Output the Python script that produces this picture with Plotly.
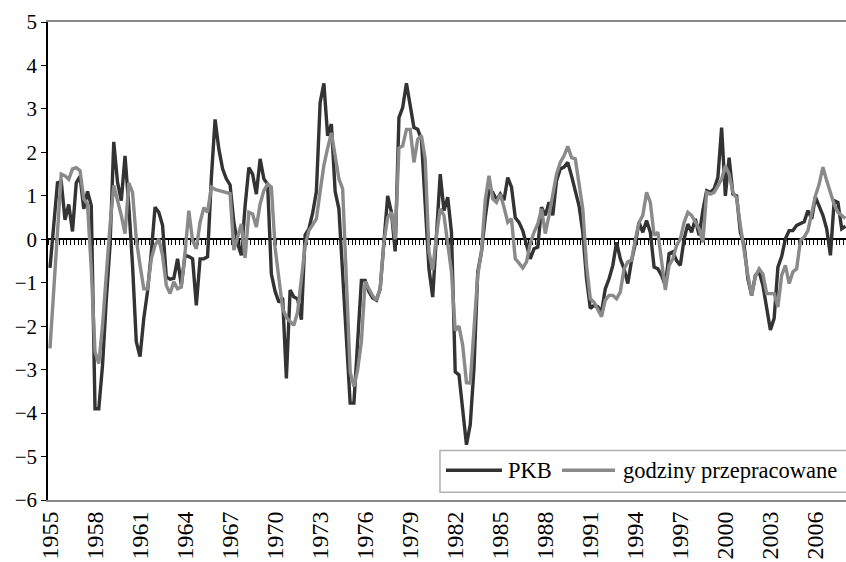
import plotly.graph_objects as go

# ---- data (quarterly, 1955Q1 .. 2008Q1) ----
start_year = 1955
year_ticks = list(range(1955, 2007, 3))

pkb = [
    -0.66, 0.30, 1.30, 1.33, 0.45, 0.80, 0.18, 1.30, 1.45, 0.70,
    1.10, 0.78, -3.90, -3.90, -2.90, -1.40, -0.15, 2.24, 1.31, 0.89,
    1.92, 0.78, -0.60, -2.36, -2.70, -1.82, -1.20, -0.30, 0.74, 0.62,
    0.32, -0.87, -0.92, -0.90, -0.45, -1.06, -0.37, -0.40, -0.45, -1.52,
    -0.45, -0.45, -0.40, 1.40, 2.76, 2.08, 1.62, 1.39, 1.25, 0.39,
    -0.10, -0.37, 0.77, 1.65, 1.50, 1.04, 1.85, 1.39, 1.27, -0.80,
    -1.20, -1.45, -1.35, -3.20, -1.17, -1.33, -1.37, -1.85, 0.10, 0.24,
    0.60, 1.10, 3.15, 3.59, 2.38, 2.65, 1.10, 0.70, -0.80, -2.30,
    -3.77, -3.77, -2.40, -0.95, -0.95, -1.21, -1.35, -1.40, -1.14, -0.07,
    1.00, 0.62, -0.28, 2.80, 3.03, 3.59, 3.10, 2.57, 2.53, 2.30,
    0.80, -0.68, -1.33, 0.10, 1.50, 0.66, 0.97, 0.16, -3.05, -3.12,
    -3.90, -4.73, -4.27, -2.97, -0.75, -0.29, 0.50, 1.12, 1.08, 0.90,
    1.04, 0.90, 1.42, 1.20, 0.50, 0.39, 0.20, -0.14, -0.45, -0.22,
    -0.18, 0.74, 0.55, 0.85, 0.55, 1.35, 1.62, 1.66, 1.77, 1.46,
    1.08, 0.77, 0.16, -0.91, -1.59, -1.52, -1.55, -1.67, -1.14, -0.91,
    -0.60, -0.07, -0.45, -0.68, -1.02, -0.49, -0.10, 0.39, 0.16, 0.43,
    0.16, -0.64, -0.68, -0.83, -1.06, -0.33, -0.29, -0.49, -0.60, 0.01,
    0.35, 0.16, 0.47, 0.09, 0.66, 1.12, 1.08, 1.16, 1.42, 2.57,
    1.00, 1.88, 1.04, 1.00, 0.16, -0.14, -0.91, -1.29, -0.83, -0.75,
    -1.06, -1.59, -2.09, -1.82, -0.64, -0.40, 0.01, 0.20, 0.20, 0.32,
    0.35, 0.40, 0.66, 0.47, 0.97, 0.77, 0.55, 0.24, -0.37, 0.89,
    0.85, 0.24, 0.30,
]

godziny = [
    -2.51, -1.21, 0.20, 1.50, 1.46, 1.38, 1.62, 1.65, 1.58, 0.93,
    0.81, -0.68, -2.59, -2.86, -1.98, -0.75, 0.32, 1.24, 0.93, 0.55,
    0.13, 1.30, 1.08, 0.01, -0.60, -1.14, -1.14, -0.45, -0.14, 0.01,
    -0.37, -1.06, -1.25, -0.98, -1.14, -1.10, -0.30, 0.66, -0.03, -0.22,
    0.39, 0.73, 0.62, 1.20, 1.15, 1.12, 1.10, 1.08, 1.05, -0.25,
    0.05, 0.35, -0.43, 0.62, 0.58, 0.28, 0.81, 1.12, 1.27, 1.20,
    -0.20, -0.90, -1.59, -1.80, -1.90, -1.98, -1.67, -0.85, -0.15, 0.20,
    0.35, 0.47, 1.10, 1.70, 2.10, 2.45, 1.92, 1.39, 1.16, -1.00,
    -3.05, -3.39, -3.00, -2.35, -0.97, -1.14, -1.30, -1.40, -1.14, -0.05,
    0.50, 0.62, 0.00, 2.10, 2.15, 2.53, 2.53, 1.77, 2.30, 2.38,
    1.85, -0.29, -0.71, 0.09, 0.70, 0.55, -0.14, -0.75, -2.10, -2.00,
    -2.44, -3.30, -3.31, -1.98, -0.83, -0.29, 0.90, 1.46, 0.93, 0.85,
    1.04, 0.74, 0.39, 0.47, -0.45, -0.55, -0.66, -0.52, -0.10, 0.16,
    0.35, 0.70, 0.13, 0.55, 1.00, 1.50, 1.77, 1.92, 2.14, 1.88,
    1.85, 1.23, 0.70, -0.60, -1.37, -1.45, -1.60, -1.78, -1.40, -1.29,
    -1.29, -1.37, -1.21, -0.68, -0.52, -0.48, 0.00, 0.39, 0.55, 1.08,
    0.85, 0.09, 0.16, -0.45, -1.17, -0.60, -0.45, -0.14, 0.01, 0.39,
    0.62, 0.55, 0.39, 0.24, -0.07, 1.08, 1.04, 1.08, 1.23, 1.38,
    1.69, 1.50, 1.08, 0.95, 0.32, -0.29, -0.83, -1.29, -0.85, -0.68,
    -0.80, -1.25, -1.25, -1.25, -1.56, -0.83, -0.60, -1.02, -0.75, -0.68,
    -0.03, 0.05, 0.20, 0.60, 1.00, 1.27, 1.66, 1.35, 1.04, 0.80,
    0.62, 0.55, 0.48,
]

series_names = ["PKB", "godziny przepracowane"]
series_colors = ["#333333", "#8a8a8a"]

quarter_idx = list(range(len(pkb)))
tick_pos = [(y - start_year) * 4 for y in year_ticks]
tick_text = [str(y) for y in year_ticks]

FONT = "Liberation Serif, Times New Roman, serif"
xrange = [-0.53, 212.15]
LW = 3.4

fig = go.Figure()
for name, vals, col in zip(series_names, [pkb, godziny], series_colors):
    fig.add_trace(go.Scatter(x=quarter_idx, y=vals, mode="lines", name=name,
                             line=dict(color=col, width=LW)))
# carrier for the zero-line category axis
fig.add_trace(go.Scatter(x=[0], y=[None], xaxis="x2", mode="lines",
                         showlegend=False, hoverinfo="skip"))

# ---- legend box (drawn in plot-area fractions) ----
ly = 0.0623
shapes = [
    dict(type="rect", xref="paper", yref="paper", x0=0.4912, x1=1.01,
         y0=0.0163, y1=0.1036, line=dict(color="#b0b0b0", width=1.5),
         fillcolor="white", layer="above"),
    dict(type="line", xref="paper", yref="paper", x0=0.4987, x1=0.5689,
         y0=ly, y1=ly, line=dict(color=series_colors[0], width=LW)),
    dict(type="line", xref="paper", yref="paper", x0=0.6441, x1=0.7105,
         y0=ly, y1=ly, line=dict(color=series_colors[1], width=LW)),
]
annotations = [
    dict(xref="paper", yref="paper", x=0.5745, y=ly, text=series_names[0],
         showarrow=False, xanchor="left", yanchor="middle",
         font=dict(family=FONT, size=22.5, color="black")),
    dict(xref="paper", yref="paper", x=0.7185, y=ly, text=series_names[1],
         showarrow=False, xanchor="left", yanchor="middle",
         font=dict(family=FONT, size=22.5, color="black")),
]

fig.update_layout(
    width=846, height=562,
    margin=dict(l=48, r=0, t=22, b=62, autoexpand=False),
    paper_bgcolor="white", plot_bgcolor="white",
    font=dict(family=FONT, size=21, color="black"),
    showlegend=False,
    shapes=shapes, annotations=annotations,
    xaxis=dict(range=xrange, tickmode="array", tickvals=tick_pos,
               ticktext=tick_text, tickangle=-90, ticks="",
               showline=True, linecolor="#888888", linewidth=2, mirror=True,
               showgrid=False, zeroline=False, automargin=False,
               tickfont=dict(family=FONT, size=24)),
    xaxis2=dict(overlaying="x", anchor="free", position=6 / 11,
                range=xrange, tick0=0.5, dtick=1, ticks="outside",
                ticklen=5, tickwidth=1, tickcolor="black",
                showticklabels=False, showline=True, linecolor="black",
                linewidth=1.5, showgrid=False, zeroline=False,
                automargin=False, layer="below traces"),
    yaxis=dict(range=[-6, 5], dtick=1, ticks="outside", ticklen=5,
               tickcolor="black", showline=True, linecolor="black",
               linewidth=1.5, showgrid=False, zeroline=False,
               automargin=False, tickfont=dict(family=FONT, size=21)),
)

fig.write_html(
    "out.html",
    config={"displayModeBar": False},
    post_script="document.body.style.margin='0';document.body.style.overflow='hidden';",
)
